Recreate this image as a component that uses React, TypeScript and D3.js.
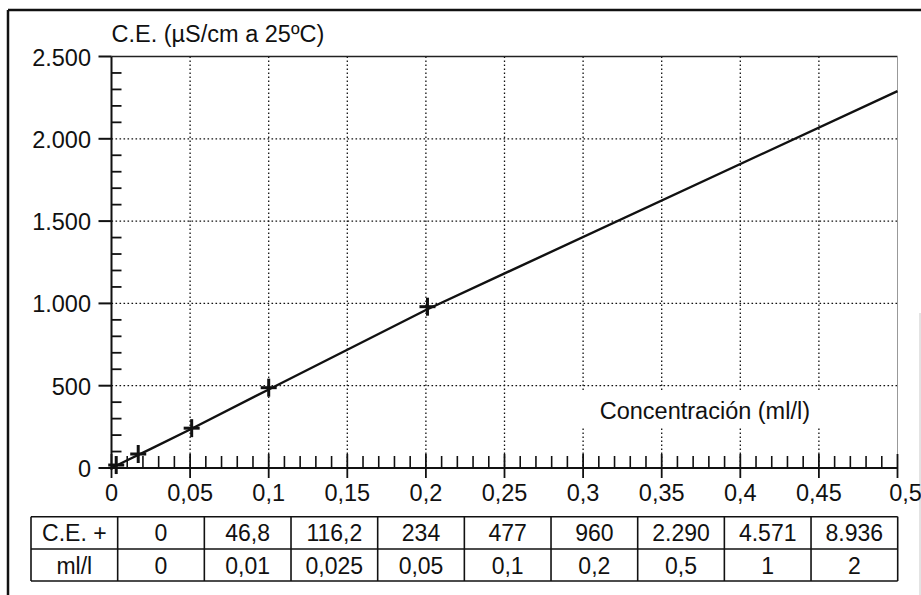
import React from "react";
import * as d3 from "d3";

// Table data (concentration in ml/l and conductivity)
const concentration = [0, 0.01, 0.025, 0.05, 0.1, 0.2, 0.5, 1, 2];
const conductivity = [0, 46.8, 116.2, 234, 477, 960, 2290, 4571, 8936];

// Plotted crosses
const markerConc = [0.003, 0.017, 0.051, 0.1, 0.201];
const markerCE = [18, 85, 242, 488, 980];

const yMajorTicks = [0, 500, 1000, 1500, 2000, 2500];
const xMajorTicks = [0, 0.05, 0.1, 0.15, 0.2, 0.25, 0.3, 0.35, 0.4, 0.45, 0.5];

const rowLabels = ["C.E. +", "ml/l"];
const yTitle = "C.E. (\u00b5S/cm a 25\u00baC)";
const xTitle = "Concentración (ml/l)";

const W = 921;
const H = 595;
const FONT = "'Liberation Sans', Arial, Helvetica, sans-serif";

const loc = d3.formatLocale({ decimal: ",", thousands: ".", grouping: [3], currency: ["", "€"] });
const fmtY = loc.format(",~f");
const fmtX = loc.format(".2~f");
const fmtCE = loc.format(",.1~f");
const fmtMl = loc.format(".3~f");

export default function App() {
  const left = 111.5, right = 897.5, top = 56.5, bottom = 468;
  const x = d3.scaleLinear().domain([0, 0.5]).range([left, right]);
  const y = d3.scaleLinear().domain([0, 2500]).range([bottom, top]);

  const yMinor = d3.range(0, 2501, 100).filter((v) => v % 500 !== 0);
  const xMinor = d3.range(0, 51, 1).filter((v) => v % 5 !== 0).map((v) => v / 100);

  const linePts = concentration
    .map((c, i) => [c, conductivity[i]] as [number, number])
    .filter((p) => p[0] <= 0.5);
  const lineGen = d3.line<[number, number]>().x((d) => x(d[0])).y((d) => y(d[1]));

  // table geometry
  const tLeft = 31, tRight = 897.7;
  const rowTops = [516.7, 549, 581];
  const nCols = concentration.length + 1;
  const colW = (tRight - tLeft) / nCols;
  const colX = d3.range(nCols + 1).map((i) => tLeft + i * colW);
  const rows = [
    [rowLabels[0], ...conductivity.map((v) => fmtCE(v))],
    [rowLabels[1], ...concentration.map((v) => fmtMl(v))],
  ];

  const dot = "1.6 2.4";
  const fs = 23.5;

  return (
    <svg
      width={W}
      height={H}
      style={{ position: "absolute", left: 0, top: 0, background: "#fff" }}
      fontFamily={FONT}
    >
      <rect x={0} y={0} width={W} height={H} fill="#fff" />
      {/* outer frame */}
      <line x1={8} y1={10} x2={W} y2={10} stroke="#111" strokeWidth={2.5} />
      <line x1={8} y1={10} x2={8} y2={H} stroke="#111" strokeWidth={2.5} />
      <line x1={920} y1={313} x2={920} y2={H} stroke="#c8c8c8" strokeWidth={1} />

      {/* grid */}
      {yMajorTicks.filter((v) => v > 0 && v < 2500).map((v) => (
        <line key={"gy" + v} x1={left} x2={right} y1={y(v)} y2={y(v)} stroke="#111" strokeWidth={1.3} strokeDasharray={dot} />
      ))}
      {xMajorTicks.filter((v) => v > 0 && v < 0.5).map((v) => (
        <line key={"gx" + v} x1={x(v)} x2={x(v)} y1={top} y2={bottom} stroke="#111" strokeWidth={1.3} strokeDasharray={dot} />
      ))}

      {/* x title with white box */}
      <rect x={560} y={390} width={right - 560 - 1} height={37} fill="#fff" />
      <text x={810} y={419} textAnchor="end" fontSize={fs} fill="#111">{xTitle}</text>

      {/* plot border */}
      <line x1={left} x2={right} y1={top} y2={top} stroke="#222" strokeWidth={1.3} />
      <line x1={right} x2={right} y1={top} y2={bottom} stroke="#999" strokeWidth={1} />

      {/* data line */}
      <path d={lineGen(linePts) || ""} fill="none" stroke="#111" strokeWidth={2.4} />

      {/* crosses */}
      {markerConc.map((c, i) => {
        const cx = x(c), cy = y(markerCE[i]);
        return (
          <g key={"m" + i} stroke="#111" strokeWidth={3}>
            <line x1={cx - 8} x2={cx + 8} y1={cy} y2={cy} />
            <line x1={cx} x2={cx} y1={cy - 9} y2={cy + 9} />
          </g>
        );
      })}

      {/* y axis */}
      <line x1={left} x2={left} y1={top} y2={bottom + 2} stroke="#111" strokeWidth={2} />
      {yMajorTicks.map((v) => (
        <g key={"yt" + v}>
          <line x1={left - 13} x2={left} y1={y(v)} y2={y(v)} stroke="#111" strokeWidth={2} />
          <text x={91} y={y(v) + 9} textAnchor="end" fontSize={fs} fill="#111">{fmtY(v)}</text>
        </g>
      ))}
      {yMinor.map((v) => (
        <line key={"ym" + v} x1={left} x2={left + 10} y1={y(v)} y2={y(v)} stroke="#111" strokeWidth={1.8} />
      ))}

      {/* x axis */}
      <line x1={left - 2} x2={right} y1={bottom} y2={bottom} stroke="#111" strokeWidth={2} />
      {xMinor.map((v) => (
        <line key={"xm" + v} x1={x(v)} x2={x(v)} y1={bottom - 12} y2={bottom} stroke="#111" strokeWidth={1.6} />
      ))}
      {xMajorTicks.map((v, i) => (
        <g key={"xt" + v}>
          <line x1={x(v)} x2={x(v)} y1={bottom - 14} y2={bottom + 10} stroke="#111" strokeWidth={1.8} />
          <text x={x(v) + (i === xMajorTicks.length - 1 ? 8 : 0)} y={bottom + 33} textAnchor="middle" fontSize={fs} fill="#111">{fmtX(v)}</text>
        </g>
      ))}

      {/* y title */}
      <text x={left} y={42} fontSize={fs} fill="#111">{yTitle}</text>

      {/* table */}
      <g stroke="#111" strokeWidth={1.6}>
        {rowTops.map((ry, i) => (
          <line key={"tr" + i} x1={tLeft} x2={tRight} y1={ry} y2={ry} />
        ))}
        {colX.map((cx, i) => (
          <line key={"tc" + i} x1={cx} x2={cx} y1={rowTops[0]} y2={rowTops[2]} />
        ))}
      </g>
      {rows.map((row, r) =>
        row.map((txt, c) => (
          <text
            key={"cell" + r + "-" + c}
            x={colX[c] + colW / 2}
            y={(rowTops[r] + rowTops[r + 1]) / 2 + 8.5}
            textAnchor="middle"
            fontSize={23}
            fill="#111"
          >
            {txt}
          </text>
        ))
      )}
    </svg>
  );
}
